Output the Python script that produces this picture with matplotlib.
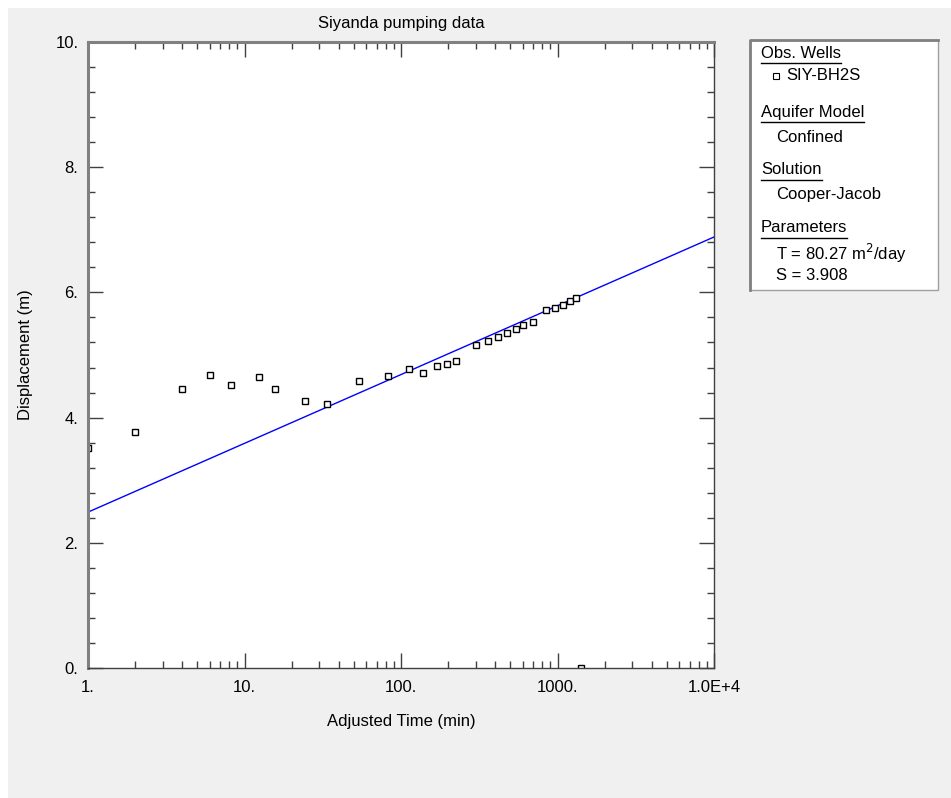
import matplotlib.pyplot as plt
from matplotlib.patches import Rectangle
from matplotlib.lines import Line2D
from matplotlib.ticker import LogLocator, FixedLocator, MultipleLocator, NullFormatter

plt.rcParams['font.family'] = ['Liberation Sans', 'DejaVu Sans']

# observed drawdown, SIY-BH2S
time_min = [1.0, 2.0, 4.0, 6.0, 8.2, 12.4, 15.7, 24.4, 33.6, 54, 82.6, 112, 138, 170,
            197, 225, 301, 360, 417, 476, 543, 602, 697, 845, 964, 1084, 1202, 1313, 1413]
displacement = [3.51, 3.77, 4.46, 4.68, 4.52, 4.65, 4.46, 4.27, 4.22, 4.58, 4.66, 4.78, 4.71, 4.82,
                4.86, 4.90, 5.16, 5.22, 5.29, 5.35, 5.42, 5.48, 5.53, 5.72, 5.75, 5.80, 5.86, 5.91, 0.0]

# Cooper-Jacob fit line (end points)
fit_time = [1.0, 10000.0]
fit_disp = [2.49, 6.885]

xtick_vals = [1, 10, 100, 1000, 10000]
xtick_labels = ["1.", "10.", "100.", "1000.", "1.0E+4"]
ytick_vals = [0, 2, 4, 6, 8, 10]
ytick_labels = ["0.", "2.", "4.", "6.", "8.", "10."]

FS = 12

W, H = 951, 798
fig = plt.figure(figsize=(W / 100, H / 100), dpi=100, facecolor="#f0f0f0")

# white border strips like the screenshot
fig.patches.append(Rectangle((0, 1 - 8 / H), 1, 8 / H, transform=fig.transFigure,
                             facecolor="white", edgecolor="none", zorder=-1))
fig.patches.append(Rectangle((0, 0), 8 / W, 1, transform=fig.transFigure,
                             facecolor="white", edgecolor="none", zorder=-1))

ax = fig.add_axes([88 / W, (H - 668) / H, 626 / W, 626 / H])
ax.set_facecolor("white")

ax.plot(fit_time, fit_disp, color="#0000ff", lw=1)
ax.plot(time_min, displacement, linestyle="none", marker="s", markersize=5,
        markerfacecolor="white", markeredgecolor="black", markeredgewidth=1)

ax.set_xscale("log")
ax.set_xlim(1, 10000)
ax.set_ylim(0, 10)
ax.xaxis.set_major_locator(FixedLocator(xtick_vals))
ax.set_xticklabels(xtick_labels)
ax.xaxis.set_minor_locator(LogLocator(base=10, subs=range(2, 10), numticks=20))
ax.xaxis.set_minor_formatter(NullFormatter())
ax.set_yticks(ytick_vals)
ax.set_yticklabels(ytick_labels)
ax.yaxis.set_minor_locator(MultipleLocator(0.4))

ax.tick_params(which="both", direction="in", top=True, right=True, labelsize=FS, colors="black")
ax.tick_params(which="major", length=10.8, width=1, color="#404040")
ax.tick_params(which="minor", length=5, width=1, color="#404040")
ax.tick_params(axis="x", which="major", pad=9)
ax.tick_params(axis="y", which="major", pad=7)

for side in ["left", "top"]:
    ax.spines[side].set_color("#808080")
    ax.spines[side].set_linewidth(2.2)
for side in ["right", "bottom"]:
    ax.spines[side].set_color("#404040")
    ax.spines[side].set_linewidth(1)

ax.set_title("Siyanda pumping data", fontsize=FS, pad=10)
ax.set_xlabel("Adjusted Time (min)", fontsize=FS, labelpad=13)
ax.set_ylabel("Displacement (m)", fontsize=FS, labelpad=16)

# legend panel on the right
x0, y0, x1, y1 = 750, 40, 938, 290
fig.patches.append(Rectangle((x0 / W, 1 - y1 / H), (x1 - x0) / W, (y1 - y0) / H,
                             transform=fig.transFigure, facecolor="white",
                             edgecolor="#a0a0a0", lw=1))
fig.lines.append(Line2D([x0 / W, x0 / W, x1 / W], [1 - y1 / H, 1 - y0 / H, 1 - y0 / H],
                        transform=fig.transFigure, color="#808080", lw=2))

headers = [("Obs. Wells", 53), ("Aquifer Model", 112), ("Solution", 170), ("Parameters", 228)]
entries = [("SIY-BH2S", 786, 76), ("Confined", 776, 137), ("Cooper-Jacob", 776, 195),
           ("T = 80.27 m$^2$/day", 776, 253), ("S = 3.908", 776, 275)]

head_texts = []
for label, ypix in headers:
    t = fig.text(761 / W, 1 - ypix / H, label, fontsize=FS, va="center", ha="left")
    head_texts.append((t, ypix))
for label, xpix, ypix in entries:
    fig.text(xpix / W, 1 - ypix / H, label, fontsize=FS, va="center", ha="left")

fig.lines.append(Line2D([776 / W], [1 - 76 / H], transform=fig.transFigure, marker="s",
                        markersize=4, markerfacecolor="white", markeredgecolor="black",
                        markeredgewidth=0.8, linestyle="none"))

fig.canvas.draw()
renderer = fig.canvas.get_renderer()
for t, ypix in head_texts:
    bb = t.get_window_extent(renderer)
    yl = 1 - (ypix + 10) / H
    fig.lines.append(Line2D([bb.x0 / W, bb.x1 / W], [yl, yl], transform=fig.transFigure,
                            color="black", lw=1))

fig.savefig("out.png", dpi=100, facecolor=fig.get_facecolor())
